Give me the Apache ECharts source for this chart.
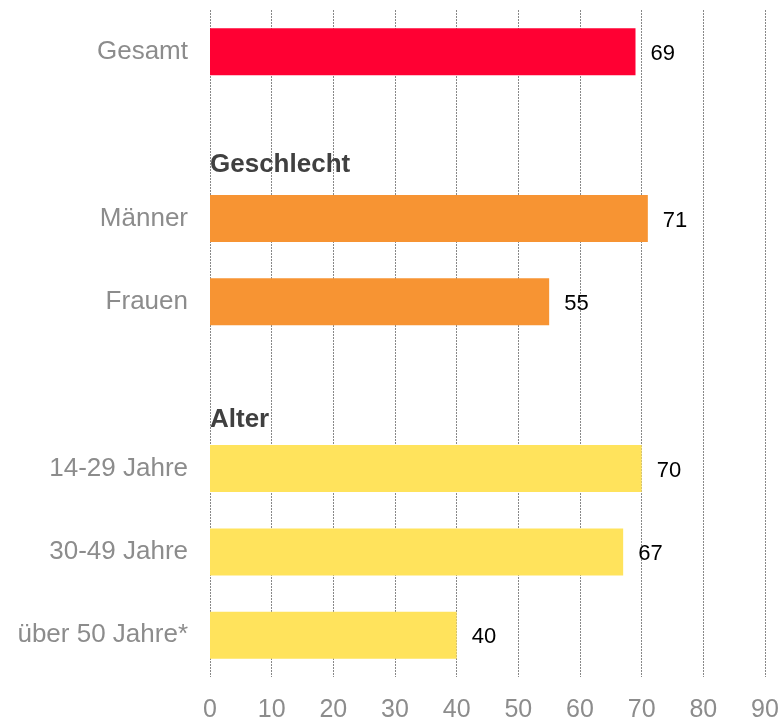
<!DOCTYPE html>
<html><head><meta charset="utf-8">
<script src="https://cdn.jsdelivr.net/npm/echarts@6/dist/echarts.min.js"></script>
<style>html,body{margin:0;padding:0;background:#fff}#c{width:782px;height:721px}</style>
</head><body><div id="c"></div>
<script>
const categories = ['Gesamt', 'Geschlecht', 'Männer', 'Frauen', 'Alter', '14-29 Jahre', '30-49 Jahre', 'über 50 Jahre*'];
const headerRows = ['Geschlecht', 'Alter'];
const values = [69, null, 71, 55, null, 70, 67, 40];
const barColors = ['#ff0033', null, '#f79433', '#f79433', null, '#ffe35c', '#ffe35c', '#ffe35c'];
const xTicks = [0, 10, 20, 30, 40, 50, 60, 70, 80, 90];

const chart = echarts.init(document.getElementById('c'), null, {renderer: 'canvas'});
const font = 'Liberation Sans, Arial, sans-serif';
const headerOffsets = {'Geschlecht': 30, 'Alter': 35};
chart.setOption({
  animation: false,
  grid: {left: 210, right: 17, top: 10, bottom: 44, containLabel: false, outerBoundsMode: 'none'},
  xAxis: {
    type: 'value', min: xTicks[0], max: xTicks[xTicks.length - 1], interval: 10,
    axisLine: {show: false}, axisTick: {show: false},
    splitLine: {show: true, lineStyle: {color: '#888', type: [2, 1], width: 1}},
    axisLabel: {color: '#8c8c8c', fontSize: 25, fontFamily: font, margin: 21}
  },
  yAxis: {
    type: 'category', data: categories, inverse: true,
    axisLine: {show: false}, axisTick: {show: false},
    axisLabel: {
      color: '#8c8c8c', fontSize: 26, fontFamily: font, margin: 22,
      formatter: v => headerRows.includes(v) ? '' : v
    }
  },
  series: [
    {
      type: 'bar', barWidth: 47, stack: 'all',
      data: values.map((v, i) => v == null ? null : {value: v, itemStyle: {color: barColors[i]}}),
      label: {show: true, position: 'right', distance: 15, offset: [0, 2], color: '#000', fontSize: 22, fontFamily: font}
    },
    {
      type: 'bar', barWidth: 47, stack: 'all', silent: true,
      data: categories.map(c => headerRows.includes(c)
        ? {value: 0, label: {offset: [0, headerOffsets[c]]}} : null),
      itemStyle: {color: 'transparent'},
      label: {
        show: true, position: 'right', distance: 0,
        formatter: p => p.name, color: '#404040', fontSize: 26, fontWeight: 'bold', fontFamily: font
      }
    }
  ]
});
</script></body></html>
